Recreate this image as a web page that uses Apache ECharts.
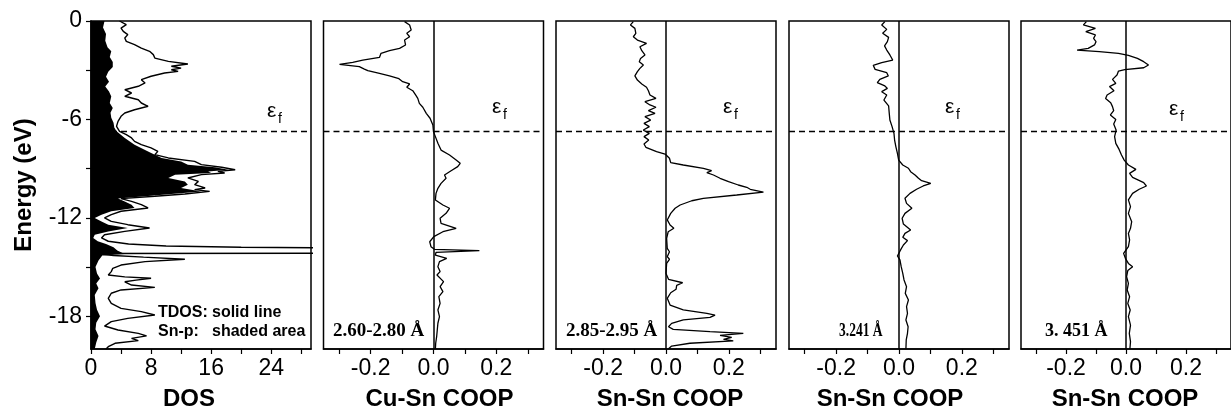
<!DOCTYPE html>
<html><head><meta charset="utf-8">
<script src="https://cdn.jsdelivr.net/npm/echarts@6/dist/echarts.min.js"></script>
<style>html,body{margin:0;padding:0;background:#fff;}#c{width:1231px;height:420px;}</style>
</head><body><div id="c"></div>
<script>
// ---------- data ----------
const FERMI = -6.74;
const dosTicks = [0,4,8,12,16,20,24,28];
const dosLabels = [0,8,16,24];
const energyTicks = [-18,-15,-12,-9,-6,-3,0];
const energyLabels = [-18,-12,-6,0];
const coopTicks = [-0.3,-0.2,-0.1,0,0.1,0.2,0.3];
const coopLabels = [-0.2,0,0.2];
const panelTitles = ['DOS','Cu-Sn COOP','Sn-Sn COOP','Sn-Sn COOP','Sn-Sn COOP'];
const distanceLabels = ['2.60-2.80 Å','2.85-2.95 Å','3.241 Å','3. 451 Å'];
const legendKeys = ['TDOS:','Sn-p:'];
const legendTexts = ['solid line','shaded area'];

// [energy (eV), total DOS]
const tdos = [[0.0,3.8],[-0.22,4.7],[-0.43,4.0],[-0.63,4.3],[-0.83,4.9],[-1.04,4.5],[-1.24,4.7],[-1.44,5.8],[-1.65,6.7],[-1.85,7.8],[-2.05,8.3],[-2.26,8.5],[-2.46,10.3],[-2.62,12.9],[-2.76,10.7],[-2.87,12.0],[-2.97,10.7],[-3.07,11.6],[-3.17,9.8],[-3.37,8.0],[-3.58,6.7],[-3.78,7.2],[-3.98,6.3],[-4.19,4.5],[-4.39,5.4],[-4.59,4.5],[-4.80,6.3],[-5.0,6.7],[-5.2,7.6],[-5.41,5.8],[-5.61,4.5],[-5.81,4.0],[-6.12,3.6],[-6.42,3.4],[-6.73,3.8],[-6.93,4.7],[-7.13,5.4],[-7.34,5.8],[-7.54,6.7],[-7.74,8.0],[-7.95,8.9],[-8.15,8.5],[-8.35,10.3],[-8.56,13.8],[-8.76,14.7],[-8.92,17.4],[-9.07,19.2],[-9.17,16.9],[-9.27,17.8],[-9.37,14.7],[-9.57,12.9],[-9.78,14.3],[-9.98,13.8],[-10.18,15.2],[-10.28,13.8],[-10.39,15.8],[-10.55,12.5],[-10.69,8.5],[-10.83,4.0],[-11.0,5.4],[-11.2,6.7],[-11.4,7.6],[-11.6,4.0],[-11.81,2.7],[-12.01,1.8],[-12.22,2.7],[-12.42,4.9],[-12.62,7.8],[-12.83,4.5],[-13.03,1.8],[-13.23,1.4],[-13.43,2.3],[-13.6,5.0],[-13.72,10],[-13.8,20],[-13.86,40],[-13.9,90],[-14.12,90],[-14.18,0.6],[-14.3,3.0],[-14.4,7.0],[-14.53,12.5],[-14.67,7.2],[-14.88,4.0],[-15.08,2.9],[-15.28,2.7],[-15.49,2.3],[-15.6,4.5],[-15.69,8.0],[-15.8,6.0],[-15.9,4.5],[-16.1,5.4],[-16.24,8.5],[-16.4,4.0],[-16.6,2.7],[-16.91,2.3],[-17.22,2.7],[-17.52,4.0],[-17.72,6.7],[-17.93,8.5],[-18.13,4.9],[-18.33,2.7],[-18.6,1.8],[-18.84,3.6],[-19.05,6.3],[-19.2,7.4],[-19.35,5.4],[-19.49,6.3],[-19.65,3.2],[-19.86,2.3],[-20.0,2.0]];

// [energy (eV), Sn-p partial DOS]
const snp = [[0,1.8],[-0.4,1.6],[-0.8,2.0],[-1.2,1.9],[-1.6,2.2],[-1.85,2.7],[-2.2,2.5],[-2.5,2.9],[-2.8,2.9],[-3.1,2.3],[-3.4,2.0],[-3.7,2.4],[-4.0,1.9],[-4.3,2.4],[-4.6,2.7],[-5.0,2.5],[-5.3,2.9],[-5.6,2.6],[-5.9,2.7],[-6.2,3.0],[-6.5,3.1],[-6.73,3.4],[-7.13,4.5],[-7.54,5.8],[-7.95,7.6],[-8.35,9.4],[-8.56,12.0],[-8.76,12.9],[-8.92,16.5],[-9.07,18.3],[-9.17,15.6],[-9.27,16.0],[-9.37,11.2],[-9.57,10.3],[-9.78,12.5],[-9.98,12.9],[-10.18,12.0],[-10.39,14.7],[-10.55,10.7],[-10.69,7.2],[-10.83,3.6],[-11.0,4.5],[-11.2,5.4],[-11.4,5.8],[-11.6,2.7],[-11.81,1.4],[-12.01,0.5],[-12.22,1.4],[-12.42,2.3],[-12.62,4.9],[-12.83,2.3],[-13.03,0.5],[-13.23,0.3],[-13.43,0.9],[-13.6,2.0],[-13.8,3.0],[-14.0,3.5],[-14.2,4.5],[-14.3,1.5],[-14.6,1.0],[-15.0,0.6],[-15.4,0.8],[-15.7,1.2],[-16.0,0.7],[-16.3,1.0],[-16.7,0.5],[-17.2,0.6],[-17.6,0.8],[-18.0,1.2],[-18.4,0.7],[-18.8,0.6],[-19.2,1.0],[-19.6,0.7],[-20,0.5]];

// [energy (eV), COOP]
const coopCuSn = [[-0.04,-0.092],[-0.24,-0.076],[-0.55,-0.071],[-0.75,-0.085],[-0.96,-0.076],[-1.16,-0.092],[-1.46,-0.089],[-1.67,-0.108],[-1.81,-0.14],[-1.97,-0.167],[-2.22,-0.172],[-2.38,-0.225],[-2.52,-0.257],[-2.64,-0.299],[-2.78,-0.236],[-2.93,-0.22],[-3.03,-0.209],[-3.19,-0.172],[-3.35,-0.14],[-3.52,-0.11],[-3.70,-0.098],[-3.84,-0.076],[-4.04,-0.085],[-4.25,-0.066],[-4.51,-0.057],[-4.72,-0.05],[-5.02,-0.045],[-5.26,-0.034],[-5.63,-0.023],[-5.93,-0.011],[-6.34,-0.002],[-6.75,0.0],[-7.05,0.006],[-7.46,0.014],[-7.87,0.024],[-8.17,0.051],[-8.48,0.072],[-8.68,0.085],[-8.88,0.077],[-9.13,0.056],[-9.39,0.035],[-9.59,0.04],[-9.9,0.024],[-10.2,0.014],[-10.51,0.008],[-10.91,0.006],[-11.22,0.030],[-11.42,0.051],[-11.73,0.04],[-12.03,0.021],[-12.34,0.024],[-12.64,0.072],[-12.85,0.03],[-13.15,0.001],[-13.46,-0.012],[-13.76,-0.008],[-13.92,0.003],[-14.0,0.146],[-14.11,0.008],[-14.27,0.006],[-14.47,0.042],[-14.67,0.019],[-14.98,0.014],[-15.28,0.021],[-15.49,0.011],[-15.89,0.032],[-16.2,0.021],[-16.5,0.03],[-16.81,0.017],[-17.22,0.021],[-17.62,0.014],[-18.03,0.019],[-18.43,0.014],[-18.84,0.012],[-19.25,0.01],[-19.65,0.007],[-20.0,0.006]];

const coopSnSnA = [[-0.04,-0.104],[-0.24,-0.113],[-0.45,-0.099],[-0.75,-0.096],[-0.96,-0.104],[-1.16,-0.091],[-1.36,-0.062],[-1.57,-0.083],[-1.81,-0.077],[-2.07,-0.067],[-2.28,-0.081],[-2.48,-0.085],[-2.68,-0.072],[-2.89,-0.083],[-3.09,-0.091],[-3.35,-0.099],[-3.6,-0.091],[-3.84,-0.077],[-4.04,-0.062],[-4.25,-0.056],[-4.51,-0.051],[-4.72,-0.032],[-4.92,-0.067],[-5.12,-0.051],[-5.26,-0.032],[-5.47,-0.056],[-5.63,-0.035],[-5.83,-0.067],[-6.04,-0.049],[-6.24,-0.07],[-6.44,-0.053],[-6.65,-0.072],[-6.85,-0.053],[-7.05,-0.07],[-7.26,-0.055],[-7.5,-0.07],[-7.7,-0.064],[-7.97,-0.03],[-8.11,-0.003],[-8.37,0.011],[-8.64,0.015],[-8.78,0.055],[-8.98,0.119],[-9.13,0.145],[-9.25,0.13],[-9.39,0.151],[-9.59,0.172],[-9.8,0.199],[-10.0,0.23],[-10.14,0.257],[-10.26,0.268],[-10.43,0.31],[-10.61,0.225],[-10.81,0.119],[-10.96,0.082],[-11.08,0.087],[-11.22,0.045],[-11.42,0.029],[-11.73,0.015],[-12.13,0.004],[-12.44,0.013],[-12.64,0.025],[-12.85,0.007],[-13.25,0.002],[-13.86,0.004],[-14.07,0.011],[-14.37,0.004],[-14.53,0.011],[-14.78,0.002],[-15.39,0.0],[-15.75,0.008],[-15.96,0.053],[-16.12,0.034],[-16.36,0.032],[-16.57,0.015],[-16.91,0.004],[-17.32,0.013],[-17.62,0.055],[-17.83,0.13],[-17.93,0.156],[-18.07,0.14],[-18.23,0.055],[-18.44,0.018],[-18.64,0.008],[-18.8,0.023],[-18.94,0.14],[-19.05,0.246],[-19.17,0.172],[-19.29,0.209],[-19.41,0.183],[-19.51,0.214],[-19.65,0.076],[-19.82,0.018],[-20.0,0.007]];

const coopSnSnB = [[-0.04,-0.045],[-0.24,-0.055],[-0.51,-0.039],[-0.75,-0.052],[-1.0,-0.033],[-1.26,-0.037],[-1.52,-0.046],[-1.77,-0.039],[-2.07,-0.029],[-2.38,-0.02],[-2.54,-0.055],[-2.7,-0.082],[-2.95,-0.076],[-3.15,-0.039],[-3.35,-0.034],[-3.56,-0.061],[-3.76,-0.069],[-3.96,-0.045],[-4.11,-0.037],[-4.31,-0.055],[-4.51,-0.039],[-4.82,-0.048],[-5.18,-0.033],[-5.63,-0.031],[-6.04,-0.029],[-6.44,-0.022],[-6.85,-0.016],[-7.26,-0.014],[-7.66,-0.01],[-8.07,-0.005],[-8.48,-0.001],[-8.78,0.012],[-8.98,0.03],[-9.19,0.037],[-9.39,0.051],[-9.59,0.062],[-9.74,0.072],[-9.9,0.101],[-10.06,0.077],[-10.26,0.056],[-10.51,0.035],[-10.81,0.019],[-11.12,0.024],[-11.42,0.041],[-11.73,0.019],[-12.03,0.01],[-12.38,0.014],[-12.74,0.037],[-12.95,0.019],[-13.19,0.012],[-13.39,0.027],[-13.66,0.014],[-13.96,0.005],[-14.33,-0.005],[-14.57,0.003],[-14.98,0.007],[-15.39,0.012],[-15.79,0.016],[-16.2,0.024],[-16.61,0.02],[-17.01,0.03],[-17.42,0.024],[-17.83,0.027],[-18.23,0.022],[-18.64,0.029],[-19.04,0.027],[-19.45,0.023],[-20.0,0.022]];

const coopSnSnC = [[-0.04,-0.132],[-0.24,-0.142],[-0.45,-0.102],[-0.65,-0.134],[-0.85,-0.102],[-1.06,-0.108],[-1.26,-0.1],[-1.46,-0.105],[-1.67,-0.126],[-1.77,-0.163],[-1.87,-0.089],[-1.97,-0.025],[-2.09,0.008],[-2.28,0.038],[-2.48,0.059],[-2.68,0.075],[-2.85,0.059],[-2.97,-0.004],[-3.05,-0.025],[-3.29,-0.03],[-3.56,-0.045],[-3.8,-0.034],[-4.0,-0.055],[-4.25,-0.04],[-4.51,-0.063],[-4.72,-0.068],[-4.98,-0.051],[-5.22,-0.045],[-5.47,-0.041],[-5.73,-0.052],[-6.0,-0.034],[-6.28,-0.041],[-6.65,-0.033],[-7.05,-0.038],[-7.46,-0.034],[-7.83,-0.023],[-8.17,-0.015],[-8.48,-0.006],[-8.78,0.008],[-9.05,0.033],[-9.29,0.012],[-9.53,0.022],[-9.86,0.059],[-10.06,0.068],[-10.26,0.044],[-10.51,0.022],[-10.91,0.008],[-11.32,0.015],[-11.73,0.008],[-12.24,0.019],[-12.64,0.015],[-12.95,0.008],[-13.35,0.012],[-13.76,0.008],[-14.17,-0.008],[-14.47,-0.002],[-14.78,0.008],[-14.98,0.022],[-15.22,0.006],[-15.59,0.002],[-16.0,0.008],[-16.4,0.004],[-16.81,0.012],[-17.22,0.006],[-17.62,0.014],[-18.03,0.008],[-18.54,0.015],[-19.05,0.011],[-19.55,0.015],[-20.0,0.013]];

const coopSets = [coopCuSn, coopSnSnA, coopSnSnB, coopSnSnC];

// ---------- layout ----------
const LEFTS = [91, 323.5, 556, 789, 1021];
const TITLE_SHIFT = [-12, 6, 4, -9, -1];
const TOP = 21, W = 220, H = 328;
const SANS = 'Liberation Sans, Arial, sans-serif';
const SERIF = 'Liberation Serif, Times New Roman, serif';

const chart = echarts.init(document.getElementById('c'), null, {renderer: 'canvas'});

const grids = LEFTS.map(l => ({left: l, top: TOP, width: W, height: H, show: true,
  borderColor: '#000', borderWidth: 1.5, backgroundColor: 'transparent', containLabel: false}));

const nameStyle = {fontFamily: SANS, fontWeight: 'bold', fontSize: 24, color: '#000'};
const labelStyle = {fontFamily: SANS, fontSize: 23, color: '#000'};

const xAxes = LEFTS.map((l, i) => {
  const isDos = i === 0;
  const s = TITLE_SHIFT[i];
  return {
    gridIndex: i, type: 'value',
    min: isDos ? 0 : -0.35, max: isDos ? 29.3 : 0.35,
    name: panelTitles[i], nameLocation: 'middle', nameGap: 38,
    nameTextStyle: Object.assign({}, nameStyle,
      {padding: [0, s < 0 ? -2 * s : 0, 0, s > 0 ? 2 * s : 0]}),
    axisLine: {show: true, onZero: false, lineStyle: {color: '#000', width: 1.5}},
    axisTick: {show: true, length: 5, lineStyle: {color: '#000', width: 1.2},
      customValues: isDos ? dosTicks : coopTicks},
    axisLabel: Object.assign({show: true, margin: 8,
      customValues: isDos ? dosLabels : coopLabels,
      formatter: isDos ? (v => String(v)) : (v => v.toFixed(1))}, labelStyle),
    splitLine: {show: false}
  };
});

const yAxes = LEFTS.map((l, i) => {
  const first = i === 0;
  return {
    gridIndex: i, type: 'value', min: -20, max: 0,
    name: first ? 'Energy (eV)' : '', nameLocation: 'middle', nameGap: 55,
    nameTextStyle: nameStyle,
    axisLine: {show: first, onZero: false, lineStyle: {color: '#000', width: 1.5}},
    axisTick: {show: first, length: 5, lineStyle: {color: '#000', width: 1.2}, customValues: energyTicks},
    axisLabel: Object.assign({show: first, margin: 9, customValues: energyLabels}, labelStyle),
    splitLine: {show: false}
  };
});

const dashed = {color: '#000', width: 1.3, type: [6, 4]};
const series = [];
series.push({
  type: 'custom', xAxisIndex: 0, yAxisIndex: 0, silent: true, animation: false,
  data: [[0, 0]],
  renderItem: (params, api) => {
    const pts = [[0, snp[0][0]]].concat(snp.map(d => [d[1], d[0]]), [[0, snp[snp.length - 1][0]]])
      .map(p => api.coord(p));
    return {type: 'polygon', shape: {points: pts}, style: {fill: '#000', stroke: null}};
  }
});
series.push({
  type: 'line', xAxisIndex: 0, yAxisIndex: 0, data: tdos.map(d => [d[1], d[0]]),
  symbol: 'none', clip: true, animation: false,
  lineStyle: {color: '#000', width: 1.4},
  markLine: {silent: true, symbol: ['none', 'none'], label: {show: false}, animation: false,
    data: [{yAxis: FERMI, lineStyle: dashed}]}
});
coopSets.forEach((arr, k) => {
  const i = k + 1;
  series.push({
    type: 'line', xAxisIndex: i, yAxisIndex: i, data: arr.map(d => [d[1], d[0]]),
    symbol: 'none', clip: true, animation: false,
    lineStyle: {color: '#000', width: 1.3},
    markLine: {silent: true, symbol: ['none', 'none'], label: {show: false}, animation: false,
      data: [{yAxis: FERMI, lineStyle: dashed},
             {xAxis: 0, lineStyle: {color: '#000', width: 1.5, type: 'solid'}}]}
  });
});

// annotation texts
const epsX = [267, 492, 723, 945, 1169];
const epsY = [111, 107, 107, 107, 109];
const graphics = [];
epsX.forEach((x, i) => {
  graphics.push({type: 'text', x: x, y: epsY[i], silent: true,
    style: {text: 'ε', font: '21px ' + SANS, fill: '#000', verticalAlign: 'middle', align: 'left'}});
  graphics.push({type: 'text', x: x + 11, y: epsY[i] + 8, silent: true,
    style: {text: 'f', font: '14px ' + SANS, fill: '#000', verticalAlign: 'middle', align: 'left'}});
});
const distX = [333, 566, 839, 1045];
const distSize = [19, 19, 18, 18];
const distScaleX = [1, 1, 0.75, 1];
distanceLabels.forEach((t, k) => {
  graphics.push({type: 'text', x: distX[k], y: 331, scaleX: distScaleX[k], silent: true,
    style: {text: t, font: 'bold ' + distSize[k] + 'px ' + SERIF, fill: '#000', verticalAlign: 'middle', align: 'left'}});
});
legendKeys.forEach((t, k) => {
  graphics.push({type: 'text', x: 158, y: 312.5 + 19 * k, silent: true,
    style: {text: t, font: 'bold 16px ' + SANS, fill: '#000', verticalAlign: 'middle', align: 'left'}});
  graphics.push({type: 'text', x: 212, y: 312.5 + 19 * k, silent: true,
    style: {text: legendTexts[k], font: 'bold 16px ' + SANS, fill: '#000', verticalAlign: 'middle', align: 'left'}});
});

chart.setOption({
  animation: false,
  backgroundColor: '#fff',
  grid: grids, xAxis: xAxes, yAxis: yAxes, series: series, graphic: graphics
});
</script></body></html>
